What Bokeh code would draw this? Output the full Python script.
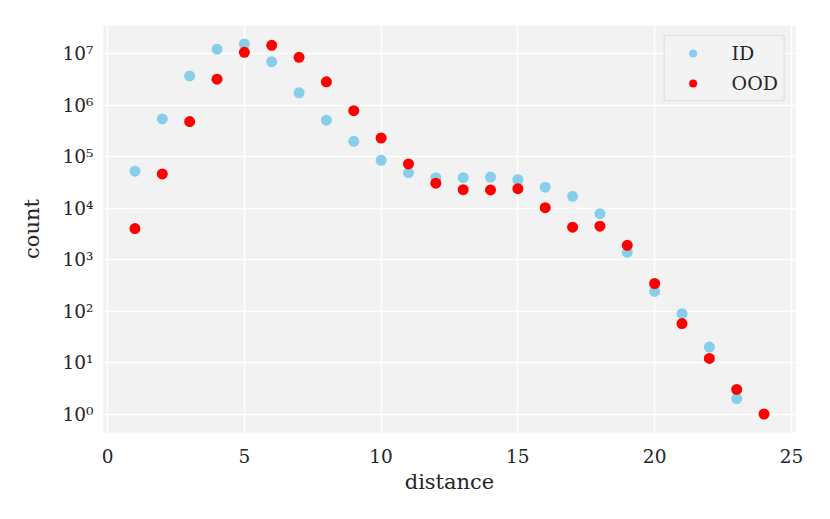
import math
from bokeh.plotting import figure
from bokeh.models import Range1d, FixedTicker, CustomJSTickFormatter, ColumnDataSource, Legend, LegendItem
from bokeh.embed import file_html
from bokeh.resources import INLINE

# data
id_distance = [1, 2, 3, 4, 5, 6, 7, 8, 9, 10, 11, 12, 13, 14, 15, 16, 17, 18, 19, 20, 21, 22, 23]
id_count = [5.2e4, 5.4e5, 3.7e6, 1.22e7, 1.54e7, 7.0e6, 1.74e6, 5.1e5, 1.98e5, 8.5e4, 4.9e4,
            3.9e4, 3.9e4, 4.0e4, 3.55e4, 2.55e4, 1.69e4, 7.8e3, 1.38e3, 240, 89, 20, 2]
ood_distance = [1, 2, 3, 4, 5, 6, 7, 8, 9, 10, 11, 12, 13, 14, 15, 16, 17, 18, 19, 20, 21, 22, 23, 24]
ood_count = [4.0e3, 4.6e4, 4.8e5, 3.2e6, 1.06e7, 1.45e7, 8.5e6, 2.84e6, 7.8e5, 2.3e5, 7.2e4,
             3.05e4, 2.28e4, 2.25e4, 2.38e4, 1.02e4, 4.26e3, 4.45e3, 1.89e3, 343, 57, 12, 3, 1]
x_ticks = [0, 5, 10, 15, 20, 25]
y_ticks = [1, 10, 100, 1000, 1e4, 1e5, 1e6, 1e7]
series_names = ["ID", "OOD"]
series_colors = ["#87CEEB", "#FF0000"]

FONT = "DejaVu Serif"

all_x = id_distance + ood_distance
all_y = id_count + ood_count
xmin, xmax = min(all_x), max(all_x)
xm = 0.05 * (xmax - xmin)
lmin, lmax = math.log10(min(all_y)), math.log10(max(all_y))
lm = 0.05 * (lmax - lmin)

p = figure(width=814, height=503, y_axis_type="log",
           x_range=Range1d(xmin - xm, xmax + xm),
           y_range=Range1d(10 ** (lmin - lm), 10 ** (lmax + lm)),
           output_backend="svg", toolbar_location=None,
           min_border_left=103, min_border_right=19, min_border_top=25, min_border_bottom=71)

p.background_fill_color = "#f2f2f2"
p.border_fill_color = "white"
p.outline_line_color = None

p.xgrid.grid_line_color = "white"
p.ygrid.grid_line_color = "white"
p.xgrid.grid_line_width = 1.6
p.ygrid.grid_line_width = 1.6
p.ygrid.minor_grid_line_color = None

p.xaxis.ticker = FixedTicker(ticks=x_ticks)
p.yaxis.ticker = FixedTicker(ticks=y_ticks)
p.yaxis.formatter = CustomJSTickFormatter(code="""
const sup = {"0":"\u2070","1":"\u00b9","2":"\u00b2","3":"\u00b3","4":"\u2074","5":"\u2075","6":"\u2076","7":"\u2077","8":"\u2078","9":"\u2079","-":"\u207b"};
const e = Math.round(Math.log10(tick));
return "10" + String(e).split("").map(c => sup[c]).join("");
""")

for ax in (p.xaxis[0], p.yaxis[0]):
    ax.axis_line_color = None
    ax.major_tick_line_color = None
    ax.minor_tick_line_color = None
    ax.major_tick_out = 0
    ax.major_tick_in = 0
    ax.minor_tick_out = 0
    ax.minor_tick_in = 0
    ax.major_label_text_font = FONT
    ax.major_label_text_font_size = "18.5px"
    ax.major_label_text_color = "#262626"
    ax.axis_label_text_font = FONT
    ax.axis_label_text_font_size = "21px"
    ax.axis_label_text_font_style = "normal"
    ax.axis_label_text_color = "#262626"

p.xaxis.axis_label = "distance"
p.yaxis.axis_label = "count"
p.xaxis.major_label_standoff = 16
p.yaxis.major_label_standoff = 10
p.xaxis.axis_label_standoff = 4
p.yaxis.axis_label_standoff = 16

src_id = ColumnDataSource(dict(x=id_distance, y=id_count))
src_ood = ColumnDataSource(dict(x=ood_distance, y=ood_count))
r1 = p.scatter("x", "y", source=src_id, size=11, fill_color=series_colors[0], line_color=None)
r2 = p.scatter("x", "y", source=src_ood, size=11, fill_color=series_colors[1], line_color=None)

legend = Legend(items=[LegendItem(label=series_names[0], renderers=[r1]),
                       LegendItem(label=series_names[1], renderers=[r2])],
                location="top_right")
legend.label_text_font = FONT
legend.label_text_font_size = "19px"
legend.label_text_color = "#262626"
legend.background_fill_color = "#f2f2f2"
legend.background_fill_alpha = 0.8
legend.border_line_color = "#cccccc"
legend.border_line_width = 1
legend.padding = 6
legend.margin = 10
legend.glyph_width = 44
legend.glyph_height = 20
legend.label_height = 20
legend.label_standoff = 17
legend.spacing = 8
p.add_layout(legend)

open("out.html", "w").write(file_html(p, INLINE))
